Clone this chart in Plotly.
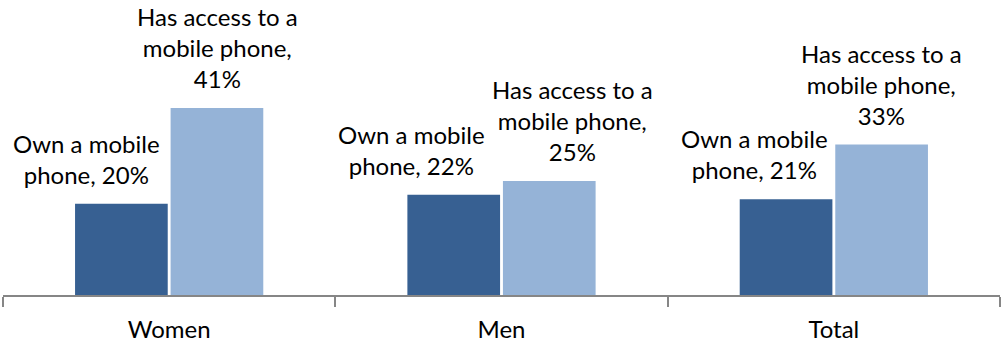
import plotly.graph_objects as go

categories = ["Women", "Men", "Total"]
own_values = [20, 22, 21]
access_values = [41, 25, 33]
own_name = "Own a mobile phone"
access_name = "Has access to a mobile phone"

# label placement offsets (pixels, relative to category centre)
own_label_dx = [-83, -90, -79]
access_label_dx = [48, 71, 48]

FONT = "Lato"
fig = go.Figure()
fig.add_trace(go.Bar(x=categories, y=own_values, name=own_name,
                     marker=dict(color="#376092", line=dict(width=0))))
fig.add_trace(go.Bar(x=categories, y=access_values, name=access_name,
                     marker=dict(color="#95B3D7", line=dict(width=0))))

ann = []
for i, c in enumerate(categories):
    ann.append(dict(x=c, y=own_values[i], xref="x", yref="y",
                    text=f"Own a mobile<br>phone, {own_values[i]}%",
                    showarrow=False, xanchor="center", yanchor="bottom",
                    xshift=own_label_dx[i], yshift=13, align="center",
                    font=dict(family=FONT, size=24, color="#000000")))
    ann.append(dict(x=c, y=access_values[i], xref="x", yref="y",
                    text=f"Has access to a<br>mobile phone,<br>{access_values[i]}%",
                    showarrow=False, xanchor="center", yanchor="bottom",
                    xshift=access_label_dx[i], yshift=13, align="center",
                    font=dict(family=FONT, size=24, color="#000000")))

fig.update_layout(
    width=1001, height=343,
    margin=dict(l=3, r=1, t=0, b=48),
    paper_bgcolor="white", plot_bgcolor="white",
    barmode="group", bargap=0.425, bargroupgap=0.03,
    showlegend=False,
    annotations=ann,
    font=dict(family=FONT, size=24, color="#000000"),
)
fig.update_xaxes(showline=True, linecolor="#868686", linewidth=2,
                 ticks="outside", tickson="boundaries", ticklen=10,
                 tickcolor="#868686", tickwidth=2,
                 tickfont=dict(family=FONT, size=24, color="#000000"),
                 ticklabelstandoff=12,
                 showgrid=False, automargin=False)
fig.update_yaxes(range=[0, 64.7], visible=False, showgrid=False)

fig.write_html("out.html", config={"displayModeBar": False},
               post_script="document.body.style.margin='0';document.body.style.padding='0';")
